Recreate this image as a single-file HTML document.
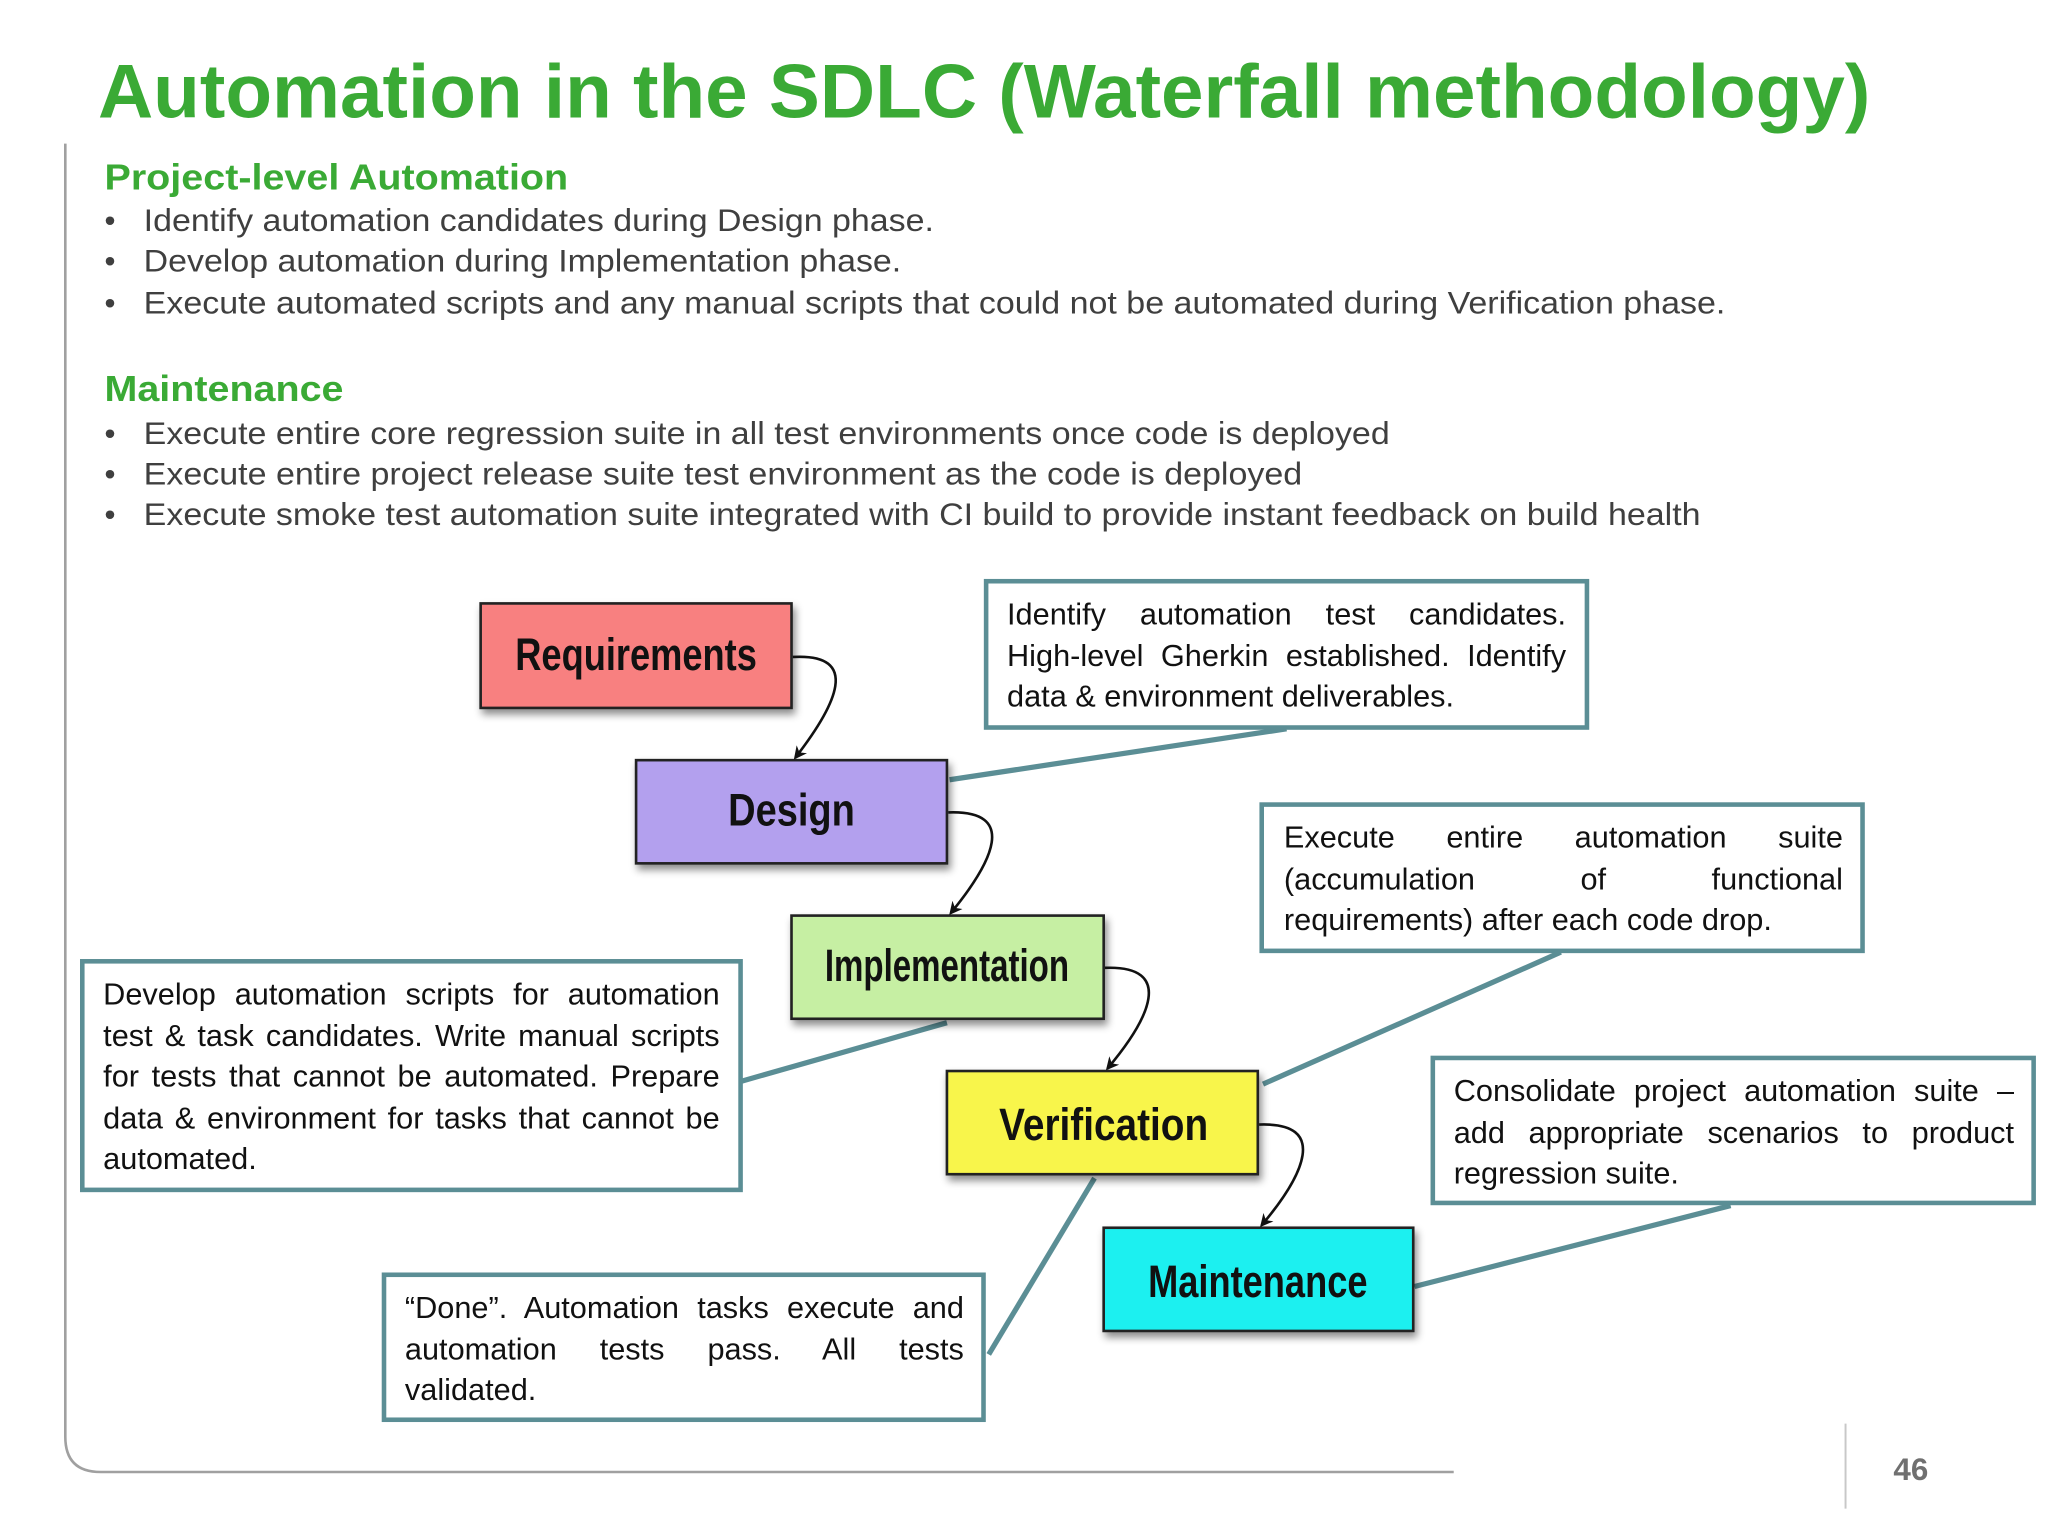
<!DOCTYPE html>
<html><head><meta charset="utf-8"><style>
html,body{margin:0;padding:0;background:#fff;width:2048px;height:1536px;overflow:hidden}
svg{display:block}
.b{font-family:"Liberation Sans",sans-serif;font-size:24px;fill:#3f3f3f}
.h{font-family:"Liberation Sans",sans-serif;font-weight:bold;fill:#3aaa35}
.p{font-family:"Liberation Sans",sans-serif;font-weight:bold;font-size:35px;fill:#111;text-anchor:middle}
.t{font-family:"Liberation Sans",sans-serif;font-size:23.5px;color:#111;margin:0;padding:0}
.t div{height:31.5px;line-height:31.5px;white-space:nowrap}
.t div.j{text-align:justify;text-align-last:justify}
</style></head><body>
<svg width="2048" height="1536" viewBox="0 0 1568 1176" xmlns="http://www.w3.org/2000/svg">
<defs>
<marker id="ar" markerWidth="10" markerHeight="10" refX="8" refY="5" orient="auto" markerUnits="userSpaceOnUse"><path d="M0,0 L10,5 L0,10 L3,5 Z" fill="#111"/></marker>
<filter id="sh" x="-10%" y="-10%" width="130%" height="140%"><feDropShadow dx="2" dy="4" stdDeviation="3" flood-color="#000" flood-opacity="0.45"/></filter>
</defs>
<text class="h" x="75" y="90" font-size="58" textLength="1357" lengthAdjust="spacingAndGlyphs">Automation in the SDLC (Waterfall methodology)</text>
<path d="M50,110 L50,1100 Q50,1127 77,1127 L1113,1127" fill="none" stroke="#a0a0a0" stroke-width="2"/>
<line x1="1413" y1="1090" x2="1413" y2="1155" stroke="#c8c8c8" stroke-width="1.5"/>
<text x="1463" y="1133" font-family="Liberation Sans,sans-serif" font-weight="bold" font-size="24" fill="#707070" text-anchor="middle">46</text>

<text class="h" x="80" y="145" font-size="28" textLength="355" lengthAdjust="spacingAndGlyphs">Project-level Automation</text>
<g class="b">
<text x="80" y="177">•</text><text x="110" y="177" textLength="605" lengthAdjust="spacingAndGlyphs">Identify automation candidates during Design phase.</text>
<text x="80" y="208">•</text><text x="110" y="208" textLength="580" lengthAdjust="spacingAndGlyphs">Develop automation during Implementation phase.</text>
<text x="80" y="240">•</text><text x="110" y="240" textLength="1211" lengthAdjust="spacingAndGlyphs">Execute automated scripts and any manual scripts that could not be automated during Verification phase.</text>
</g>
<text class="h" x="80" y="307" font-size="28" textLength="183" lengthAdjust="spacingAndGlyphs">Maintenance</text>
<g class="b">
<text x="80" y="340">•</text><text x="110" y="340" textLength="954" lengthAdjust="spacingAndGlyphs">Execute entire core regression suite in all test environments once code is deployed</text>
<text x="80" y="371">•</text><text x="110" y="371" textLength="887" lengthAdjust="spacingAndGlyphs">Execute entire project release suite test environment as the code is deployed</text>
<text x="80" y="402">•</text><text x="110" y="402" textLength="1192" lengthAdjust="spacingAndGlyphs">Execute smoke test automation suite integrated with CI build to provide instant feedback on build health</text>
</g>

<g stroke="#5b8e95" stroke-width="4" fill="none">
<line x1="985" y1="558" x2="727" y2="597"/>
<line x1="1195" y1="729" x2="967" y2="830"/>
<line x1="567" y1="828" x2="725" y2="783"/>
<line x1="1325" y1="923" x2="1083" y2="985"/>
<line x1="757" y1="1037" x2="838" y2="902"/>
</g>

<g stroke="#222" stroke-width="2" filter="url(#sh)">
<rect x="368" y="462" width="238" height="80" fill="#f88080"/>
<rect x="487" y="582" width="238" height="79" fill="#b3a0ee"/>
<rect x="606" y="701" width="239" height="79" fill="#c6efa3"/>
<rect x="725" y="820" width="238" height="79" fill="#f8f54b"/>
<rect x="845" y="940" width="237" height="79" fill="#1ef0f0"/>
</g>
<text class="p" x="487" y="513" textLength="185" lengthAdjust="spacingAndGlyphs">Requirements</text>
<text class="p" x="606" y="632" textLength="97" lengthAdjust="spacingAndGlyphs">Design</text>
<text class="p" x="725" y="751" textLength="187" lengthAdjust="spacingAndGlyphs">Implementation</text>
<text class="p" x="845" y="873" textLength="160" lengthAdjust="spacingAndGlyphs">Verification</text>
<text class="p" x="963" y="993" textLength="168" lengthAdjust="spacingAndGlyphs">Maintenance</text>

<g stroke="#111" stroke-width="2" fill="none" marker-end="url(#ar)">
<path d="M607,503 C660,500 640,540 609,580"/>
<path d="M726,622 C780,620 760,660 728,699"/>
<path d="M846,741 C900,739 880,780 848,818"/>
<path d="M964,861 C1018,859 998,900 966,938"/>
</g>

<g fill="#fff" stroke="#5b8e95" stroke-width="3.5">
<rect x="755" y="445" width="460" height="112"/>
<rect x="966" y="616" width="460" height="112"/>
<rect x="63" y="736" width="504" height="175"/>
<rect x="1097" y="810" width="460" height="111"/>
<rect x="294" y="976" width="459" height="111"/>
</g>

<foreignObject x="771" y="455" width="428" height="100"><div xmlns="http://www.w3.org/1999/xhtml" class="t">
<div class="j">Identify automation test candidates.</div>
<div class="j">High-level Gherkin established. Identify</div>
<div>data &amp; environment deliverables.</div></div></foreignObject>

<foreignObject x="983" y="626" width="428" height="100"><div xmlns="http://www.w3.org/1999/xhtml" class="t">
<div class="j">Execute entire automation suite</div>
<div class="j">(accumulation of functional</div>
<div>requirements) after each code drop.</div></div></foreignObject>

<foreignObject x="79" y="746" width="472" height="165"><div xmlns="http://www.w3.org/1999/xhtml" class="t">
<div class="j">Develop automation scripts for automation</div>
<div class="j">test &amp; task candidates. Write manual scripts</div>
<div class="j">for tests that cannot be automated. Prepare</div>
<div class="j">data &amp; environment for tasks that cannot be</div>
<div>automated.</div></div></foreignObject>

<foreignObject x="1113" y="820" width="429" height="100"><div xmlns="http://www.w3.org/1999/xhtml" class="t">
<div class="j">Consolidate project automation suite –</div>
<div class="j">add appropriate scenarios to product</div>
<div>regression suite.</div></div></foreignObject>

<foreignObject x="310" y="986" width="428" height="100"><div xmlns="http://www.w3.org/1999/xhtml" class="t">
<div class="j">“Done”. Automation tasks execute and</div>
<div class="j">automation tests pass. All tests</div>
<div>validated.</div></div></foreignObject>
</svg>
</body></html>
